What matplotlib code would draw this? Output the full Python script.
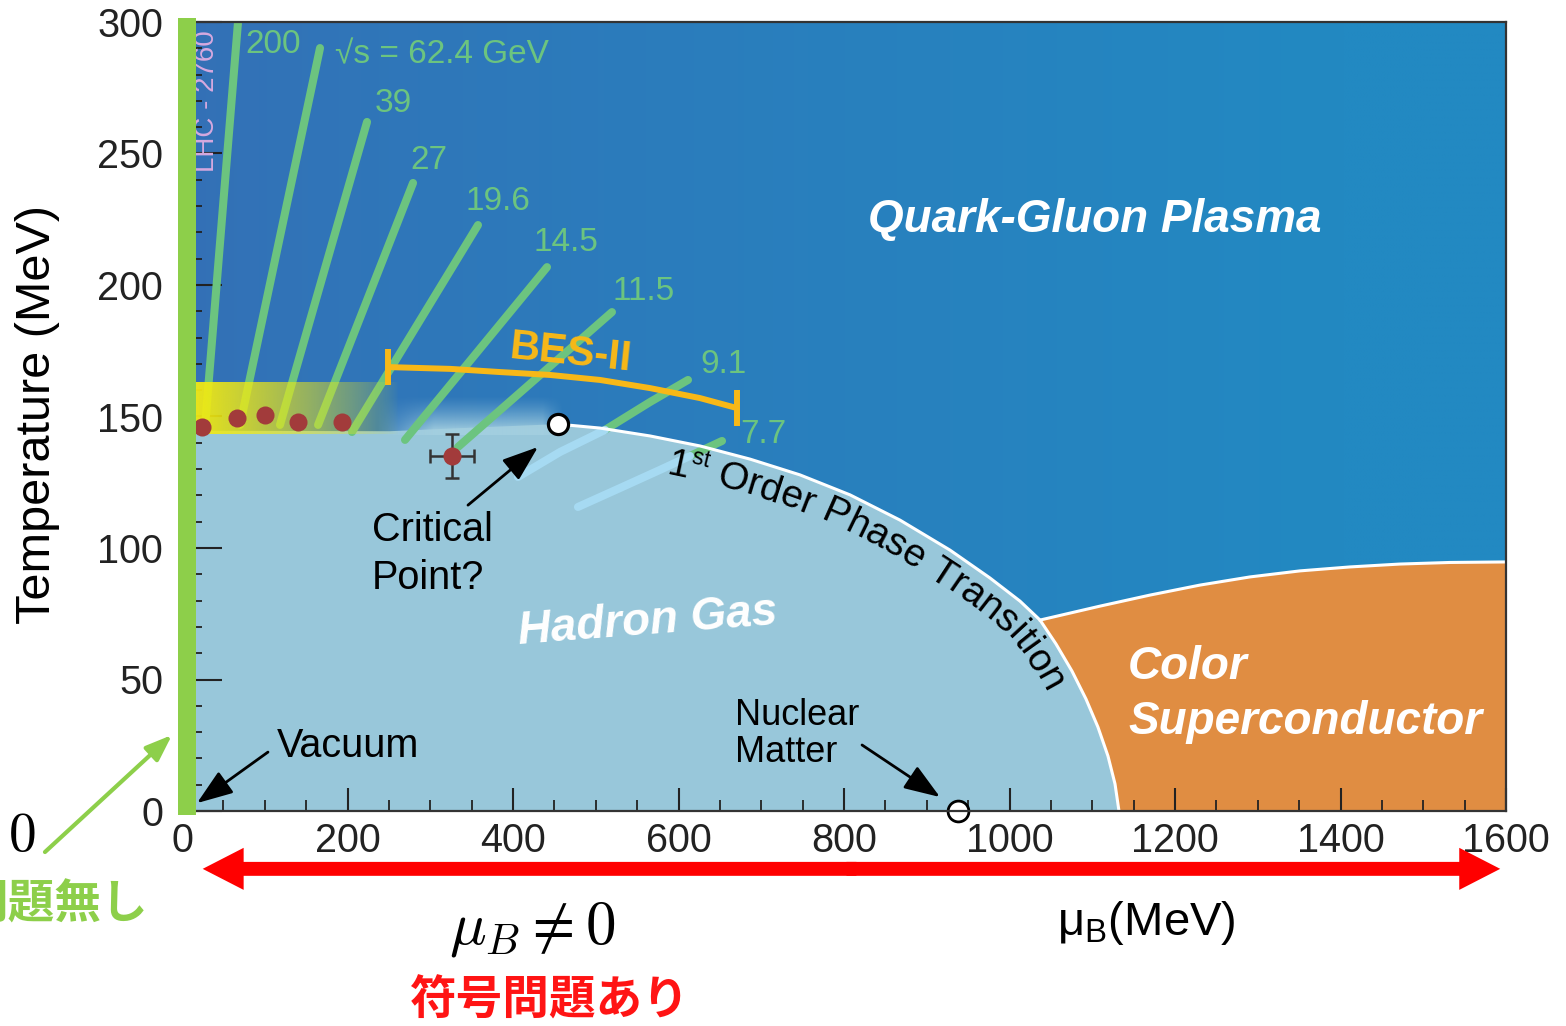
import numpy as np
import matplotlib.pyplot as plt
from matplotlib.patches import Rectangle, FancyArrow
from matplotlib.font_manager import FontProperties
from matplotlib.textpath import TextToPath
from matplotlib.ticker import MultipleLocator
from matplotlib.colors import to_rgb

plt.rcParams['font.family'] = ['Liberation Sans', 'Noto Sans CJK JP', 'DejaVu Sans']

# phase boundaries, mu_B and T in MeV
crossover_mu = [0, 251, 324, 454.4]
crossover_T = [144.6, 144.4, 145.4, 147.1]
first_order_mu = [454.4, 505.1, 565.6, 626.0, 686.4, 746.8, 807.3, 867.7, 928.1, 976.4,
                  1012.7, 1036.9, 1056.2, 1075.5, 1092.4, 1106.9, 1119.0, 1127.5, 1132.3]
first_order_T = [147.1, 145.6, 142.6, 138.8, 133.8, 127.8, 120.2, 110.6, 99.2, 88.6,
                 79.8, 72.6, 63.5, 53.2, 42.6, 31.9, 20.9, 10.3, 0.0]
csc_mu = [1036.9, 1109.4, 1169.8, 1230.2, 1290.6, 1351.1, 1411.5, 1471.9, 1532.3, 1600]
csc_T = [72.6, 77.9, 82.1, 85.9, 89.0, 91.3, 92.8, 93.9, 94.5, 94.7]

# beam energy trajectories (green above the transition)
beam_mu = [[27.8, 67.7], [70.1, 166.8], [118.4, 223.6], [164.4, 279.2], [205.4, 357.7],
           [269.5, 441.1], [333.5, 519.6], [511.2, 565.6, 611.5], [613.9, 652.6]]
beam_T = [[146.0, 300.0], [146.8, 290.1], [146.8, 262.0], [146.8, 238.8], [144.1, 222.8],
          [141.1, 206.8], [138.4, 189.7], [144.9, 155.5, 163.9], [135.0, 140.7]]
# continuation of the two lowest energies inside the hadron gas
below_mu = [[406.0, 456.8, 511.2], [478.5, 529.3, 577.6, 613.9]]
below_T = [[127.0, 136.5, 144.9], [115.6, 122.8, 129.7, 135.0]]

beam_labels = ['200', '√s = 62.4 GeV', '39', '27', '19.6', '14.5', '11.5', '9.1', '7.7']
label_mu = [76.1, 184.9, 233.2, 275.5, 342.0, 424.2, 520.8, 626.0, 674.3]
label_T = [291.3, 287.5, 269.2, 247.5, 231.9, 216.3, 197.7, 169.6, 143.0]

# freeze-out points
fo_mu = [24.2, 66.5, 100.3, 140.2, 193.4]
fo_T = [146.0, 149.4, 150.6, 148.0, 148.0]
fo_err_mu, fo_err_T = 326.3, 135.0
fo_xerr, fo_yerr = 26.0, 8.4

crit_mu, crit_T = 454.4, 147.1
nuc_mu, nuc_T = 938.0, 0.0

# BES-II coverage
bes_mu = [248.5, 324.6, 384.3, 444.7, 505.1, 565.6, 626.0, 670.7]
bes_T = [168.8, 168.1, 166.9, 165.8, 163.9, 160.8, 157.0, 153.2]

QGP_LEFT = '#3470b6'
QGP_RIGHT = '#2289c2'
HADRON = '#98c7da'
ORANGE = '#e08d42'
BEAM_GREEN = '#6cc47f'
BAR_GREEN = '#8dcf4a'

fig = plt.figure(figsize=(15.66, 10.26), dpi=100)
ax = fig.add_axes([182 / 1566, 1 - 811 / 1026, 1324 / 1566, 789 / 1026])
ax.set_xlim(0, 1600)
ax.set_ylim(0, 300)

# QGP background, darker at low mu_B
xs = np.linspace(0, 1600, 200)
ys = np.linspace(0, 300, 60)
X, Y = np.meshgrid(xs, ys)
t = np.clip(X / 1400, 0, 1) ** 0.8
c0, c1 = np.array(to_rgb(QGP_LEFT)), np.array(to_rgb(QGP_RIGHT))
bg = c0[None, None, :] * (1 - t[..., None]) + c1[None, None, :] * t[..., None]
ax.imshow(bg, extent=[0, 1600, 0, 300], origin='lower', aspect='auto', zorder=0,
          interpolation='bilinear')

# hadron gas
hx = [0] + crossover_mu + first_order_mu[1:] + [0]
hy = [0] + crossover_T + first_order_T[1:] + [0]
ax.fill(hx, hy, color=HADRON, lw=0, zorder=1)

# color superconductor
i0 = first_order_mu.index(csc_mu[0])
ox = first_order_mu[i0:] + [1600] + csc_mu[::-1]
oy = first_order_T[i0:] + [0] + csc_T[::-1]
ax.fill(ox, oy, color=ORANGE, lw=0, zorder=1)

# soft crossover haze
hz_x = np.linspace(235, 462, 120)
hz_y = np.linspace(143, 158, 40)
HX, HY = np.meshgrid(hz_x, hz_y)
a = np.clip((158 - HY) / 13, 0, 1) ** 1.3
a *= np.clip((HX - 235) / 70, 0, 1) * np.clip((462 - HX) / 25, 0, 1)
haze = np.zeros(HX.shape + (4,))
haze[..., :3] = to_rgb('#a4cfe0')
haze[..., 3] = a * 0.9
ax.imshow(haze, extent=[235, 462, 143, 158], origin='lower', aspect='auto', zorder=2,
          interpolation='bilinear')

# beam energy lines
for mu, T in zip(beam_mu, beam_T):
    ax.plot(mu, T, color=BEAM_GREEN, lw=5.8, solid_capstyle='round', zorder=3)
for mu, T in zip(below_mu, below_T):
    ax.plot(mu, T, color='#a6daf2', lw=5.8, solid_capstyle='round', zorder=3)
for s, mu, T in zip(beam_labels, label_mu, label_T):
    ax.text(mu, T, s, color=BEAM_GREEN, fontsize=24, ha='left', va='center', zorder=7)

# yellow crossover band
yb_x = np.linspace(0, 262, 200)
yb_y = np.linspace(143.5, 163, 30)
YX, YY = np.meshgrid(yb_x, yb_y)
band = np.zeros(YX.shape + (4,))
band[..., :3] = to_rgb('#f2ea12')
band[..., 3] = np.clip(1 - YX / 262, 0, 1) ** 0.75
ax.imshow(band, extent=[0, 262, 143.5, 163], origin='lower', aspect='auto', zorder=4,
          interpolation='bilinear')

# white phase transition lines
ax.plot(first_order_mu, first_order_T, color='white', lw=2.2, zorder=5,
        solid_joinstyle='round')
ax.plot(csc_mu, csc_T, color='white', lw=2.2, zorder=5, solid_joinstyle='round')

# BES-II range
bes_c = '#f8b817'
ax.plot(bes_mu, bes_T, color=bes_c, lw=4.3, zorder=5, solid_capstyle='butt')
for m, T in [(bes_mu[0], bes_T[0]), (bes_mu[-1], bes_T[-1])]:
    ax.plot([m, m], [T - 7, T + 7], color=bes_c, lw=4.3, zorder=5, solid_capstyle='butt')
ax.text(468.9, 174.1, 'BES-II', color=bes_c, fontsize=30, fontweight='bold',
        rotation=-6, ha='center', va='center', zorder=7)

# freeze-out points
ax.plot(fo_mu, fo_T, 'o', color='#a23b3b', ms=13, zorder=6, mec='none')
ax.errorbar(fo_err_mu, fo_err_T, xerr=fo_xerr, yerr=fo_yerr, fmt='o', color='#a23b3b',
            ms=13, mec='none', ecolor='#333333', elinewidth=1.8, capsize=5, capthick=1.8,
            zorder=6)
ax.plot(crit_mu, crit_T, 'o', ms=14.5, mfc='white', mec='black', mew=2.3, zorder=8)
ax.plot(nuc_mu, nuc_T, 'o', ms=15, mfc='white', mec='black', mew=2.0, zorder=8,
        clip_on=False)

# region names
wkw = dict(color='white', fontweight='bold', fontstyle='italic', fontsize=33, zorder=7)
ax.text(1103.4, 224.7, 'Quark-Gluon Plasma', ha='center', va='center', **wkw)
ax.text(563.1, 71.9, 'Hadron Gas', ha='center', va='center', rotation=4.4, **wkw)
ax.text(1143.2, 54.8, 'Color', ha='left', va='center', **wkw)
ax.text(1143.2, 33.8, 'Superconductor', ha='left', va='center', **wkw)
ax.text(30.2, 270, 'LHC - 2760', color='#d6a9df', fontsize=20, rotation=90,
        ha='center', va='center', zorder=7)

# annotations with arrows
ax.text(229.6, 106.8, 'Critical', fontsize=28.5, ha='left', va='center', zorder=7)
ax.text(229.6, 88.6, 'Point?', fontsize=28.5, ha='left', va='center', zorder=7)
ax.text(114.8, 24.7, 'Vacuum', fontsize=28.5, ha='left', va='center', zorder=7)
ax.text(668.3, 36.5, 'Nuclear', fontsize=26, ha='left', va='center', zorder=7)
ax.text(668.3, 22.4, 'Matter', fontsize=26, ha='left', va='center', zorder=7)

akw = dict(arrowstyle='-|>,head_length=1.1,head_width=0.4', color='black', lw=2,
           mutation_scale=20, shrinkA=0, shrinkB=0)
ax.annotate('', xy=(430.2, 138.4), xytext=(345.6, 116.3), arrowprops=akw, zorder=7)
ax.annotate('', xy=(18.1, 3.0), xytext=(103.9, 22.4), arrowprops=akw, zorder=11,
            annotation_clip=False)
ax.annotate('', xy=(916.0, 5.3), xytext=(821.8, 25.1), arrowprops=akw, zorder=7)


def text_on_curve(ax, pieces, bx, by, mu_start, offset):
    """Lay characters along the boundary, offset below it by `offset` px."""
    t2p = TextToPath()
    pts = ax.transData.transform(np.column_stack([bx, by]))
    tang = np.gradient(pts, axis=0)
    tang /= np.hypot(tang[:, 0], tang[:, 1])[:, None]
    norm = np.column_stack([tang[:, 1], -tang[:, 0]])
    base = pts + offset * norm
    arc = np.concatenate([[0], np.cumsum(np.hypot(*np.diff(base, axis=0).T))])
    x0 = ax.transData.transform((mu_start, 0))[0]
    s = np.interp(x0, base[:, 0], arc)
    inv = ax.transData.inverted()
    for text, fs, lift in pieces:
        fp = FontProperties(family='Liberation Sans', size=fs)
        wxx = t2p.get_text_width_height_descent('xx', fp, ismath=False)[0]
        for ch in text:
            w = (t2p.get_text_width_height_descent('x' + ch + 'x', fp, ismath=False)[0] - wxx)
            w *= ax.figure.dpi / 72
            sc = s + w / 2
            px = np.interp(sc, arc, base[:, 0])
            py = np.interp(sc, arc, base[:, 1])
            tx = np.interp(sc, arc, tang[:, 0])
            ty = np.interp(sc, arc, tang[:, 1])
            n = np.array([ty, -tx]) / np.hypot(tx, ty)
            px, py = px - lift * n[0], py - lift * n[1]
            ang = np.degrees(np.arctan2(ty, tx))
            dx, dy = inv.transform((px, py))
            if ch != ' ':
                ax.text(dx, dy, ch, fontsize=fs, rotation=ang, rotation_mode='anchor',
                        ha='center', va='baseline', zorder=7)
            s += w


text_on_curve(ax, [('1', 28, 0), ('st', 16.5, 15), (' Order Phase Transition', 28, 0)],
              first_order_mu, first_order_T, 585.0, 34)

# axes styling
ax.xaxis.set_major_locator(MultipleLocator(200))
ax.xaxis.set_minor_locator(MultipleLocator(50))
ax.yaxis.set_major_locator(MultipleLocator(50))
ax.yaxis.set_minor_locator(MultipleLocator(10))
ax.tick_params(axis='x', which='major', direction='in', length=16.5, width=1.5, pad=8,
               labelsize=28.5, labelcolor='#222222', top=False, color='#222222')
ax.tick_params(axis='x', which='minor', direction='in', length=8, width=1.3, top=False,
               color='#222222')
ax.tick_params(axis='y', which='major', direction='in', length=29, width=1.5, pad=13.7,
               labelsize=28.5, labelcolor='#222222', right=False, color='#222222')
ax.tick_params(axis='y', which='minor', direction='in', length=14.5, width=1.3, right=False,
               color='#222222')
ax.set_axisbelow(False)
for sp in ax.spines.values():
    sp.set_color('#333333')
    sp.set_linewidth(1.6)
    sp.set_zorder(9)

ax.text(-0.109, 0.502, 'Temperature (MeV)', transform=ax.transAxes, rotation=90,
        fontsize=35, ha='center', va='center')
ax.text(1057.4, -47.1, 'μ$_\\mathregular{B}$(MeV)', fontsize=34, ha='left', va='baseline',
        clip_on=False)

# mu_B = 0 axis marker and the sign-problem notes
ax.add_patch(Rectangle((-4.8, -1.5), 21.7, 303, color=BAR_GREEN, lw=0, zorder=10,
                       clip_on=False))
ax.annotate('', xy=(-12.1, 28.9), xytext=(-165.6, -15.6), annotation_clip=False,
            arrowprops=dict(arrowstyle='-|>,head_length=0.8,head_width=0.3',
                            color=BAR_GREEN, lw=3, mutation_scale=20, shrinkA=0, shrinkB=0))
ax.text(-193.4, -10.0, '$0$', math_fontfamily='cm', fontsize=40, ha='center', va='center',
        clip_on=False)
ax.text(-41, -35.7, '問題無し', color=BAR_GREEN, fontsize=33.6, fontweight='bold',
        family=['Noto Sans CJK JP'], ha='right', va='center', clip_on=False)

# red double arrow along the mu_B axis
mid = 809
for start, dx in ((mid - 6, 790), (mid + 6, -790)):
    ax.add_patch(FancyArrow(start, -22, dx, 0, width=5.3, head_width=16, head_length=49.5,
                            length_includes_head=True, color='#ff0000', lw=0,
                            clip_on=False, zorder=10))
ax.text(423, -45.2, '$\\mu_B \\neq 0$', math_fontfamily='cm', fontsize=44, ha='center',
        va='center', clip_on=False)
ax.text(444.7, -71.9, '符号問題あり', color='#ff1414', fontsize=33.6, fontweight='bold',
        family=['Noto Sans CJK JP'], ha='center', va='center', clip_on=False)

fig.savefig('out.png', dpi=100)
